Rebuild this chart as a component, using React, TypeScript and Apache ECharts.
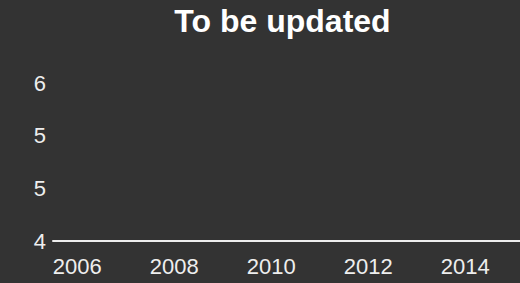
import React, { useEffect, useRef } from "react";
import * as echarts from "echarts";

const years = ["2006", "2007", "2008", "2009", "2010", "2011", "2012", "2013", "2014", "2015"];
const values: (number | null)[] = [null, null, null, null, null, null, null, null, null, null];
const yMin = 4;
const yMax = 5.5;
const yStep = 0.5;

export default function App() {
  const ref = useRef<HTMLDivElement>(null);
  useEffect(() => {
    document.body.style.margin = "0";
    document.body.style.background = "#333333";
    document.body.style.overflow = "hidden";
    if (!ref.current) return;
    const chart = echarts.init(ref.current, null, { renderer: "svg" });
    const font = "Arial";
    chart.setOption({
      animation: false,
      backgroundColor: "#333333",
      textStyle: { fontFamily: font },
      title: {
        text: "To be updated",
        left: "center",
        top: 0,
        textStyle: { color: "#ffffff", fontSize: 32, fontWeight: "bold", fontFamily: font },
      },
      grid: { left: 53, right: 27, top: 83, bottom: 42, containLabel: false },
      xAxis: {
        type: "category",
        data: years,
        boundaryGap: true,
        axisLine: { show: true, lineStyle: { color: "#eeeeee", width: 2 } },
        axisTick: { show: false },
        axisLabel: { color: "#eeeeee", fontSize: 22, interval: 1, margin: 14, fontFamily: font },
        splitLine: { show: false },
      },
      yAxis: {
        type: "value",
        min: yMin,
        max: yMax,
        interval: yStep,
        axisLine: { show: false },
        axisTick: { show: false },
        splitLine: { show: false },
        axisLabel: {
          color: "#eeeeee",
          fontSize: 22,
          margin: 7,
          fontFamily: font,
          formatter: (v: number) => String(Math.round(v)),
        },
      },
      series: [
        {
          type: "line",
          data: values,
          lineStyle: { color: "#ffffff" },
          showSymbol: false,
        },
      ],
    });
    return () => chart.dispose();
  }, []);
  return (
    <div style={{ width: 520, height: 283, overflow: "hidden" }}>
      <div ref={ref} style={{ width: 565, height: 283 }} />
    </div>
  );
}
